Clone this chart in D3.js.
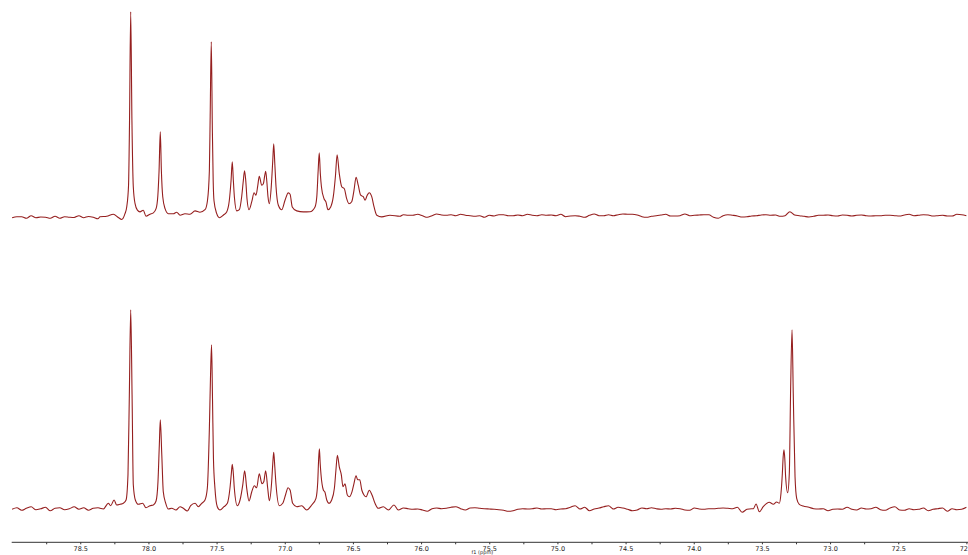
<!DOCTYPE html>
<html>
<head>
<meta charset="utf-8">
<script src="https://cdn.jsdelivr.net/npm/d3@7"></script>
<style>
  body { margin: 0; background: #fff; }
  svg { display: block; }
</style>
</head>
<body>
<svg id="chart" width="968" height="555"></svg>
<script>
// axis ticks (ppm)
const majorTicks = [78.5, 78.0, 77.5, 77.0, 76.5, 76.0, 75.5, 75.0, 74.5, 74.0, 73.5, 73.0, 72.5, 72.0];
const tickLabels = ["78.5", "78.0", "77.5", "77.0", "76.5", "76.0", "75.5", "75.0", "74.5", "74.0", "73.5", "73.0", "72.5", "72.0"];
const minorTicks = [78.75, 78.25, 77.75, 77.25, 76.75, 76.25, 75.75, 75.25, 74.75, 74.25, 73.75, 73.25, 72.75];

// baseline samples, one every 0.035 ppm (intensity, a.u.)
const gridStep = 0.035;
const topBaseLeft = [-2, -1, -1, -2.6, 0, -2, -1.3, -1.5, -2.6, -0.5, -2.6, -1, -1.5, -1.8, 0, -2, -0.8, -1.5, -3]; // from 79.000
const topBaseRight = [ // from 76.130
  1, 0.4, 0.4, 1.4, 0, -1.6, 0, 1.7, 0.7, 0.4,
  1, 0, 1.4, 0.4, 0, -0.6, 0, -1.6, 0.4, -0.3,
  1, 1, 0, 0, 0.7, 0, 1.4, 0.4, 0, 1,
  0.4, 0.7, 0, 1.4, -1, -0.3, 0, -0.6, -1.6, 0.4,
  1.7, 0, 0, 1, 0, 1, 1.7, 1.4, 1.4, 0.7,
  -1, -1.6, -0.6, 0, 0.7, 1.4, -0.3, -0.3, 0, 1.7,
  0, 0.4, 0.7, 1, 1, -1.6, -2.6, 0, 1, 0.4,
  -0.3, -1.3, -1, -0.3, 0, 0.7, 1, 0.4, 0.7, -0.6,
  0, 4, 0.7, 0, -0.6, -1.3, -0.6, 0.4, 0.4, 0.7,
  0, -0.3, 0.7, 0.4, -0.3, 0.4, 0.7, 0, -0.3, 0,
  0, 0.4, 0.4, 0, -0.3, 0.7, 1.4, 0, 0.4, 1,
  0.7, -0.3, 0, 0.4, -0.3, -0.3, 1.4, 1, 0
];
const bottomBaseLeft = [-0.5, 1, -1.5, 0.5, 2, -1, 0, 1.5, -2, 0.5, 1, -1, 0, 2, -0.5, 1, -1.5, 0.5, 1]; // from 79.000
const bottomBaseMid = [ // from 76.130
  0.8, 0.1, -0.5, -0.2, -1.2, -2.5, 0.1, 0.8, 0.1, 0.5,
  1.5, 2.1, 0.1, -1.2, 0.8, 1.1, 0.5, 0.1, -0.2, -0.5,
  -0.9, -1.5, -2.5, -1.9, -0.5, 0.1, -0.2, 0.1, 0.8, -0.2,
  0.1, 0.1, -0.9, -0.2, 0.1, 1.5, 3.1, -0.2, 1.5, -1.9,
  -0.2, 0.8, 2.1, 3.1, -0.2, 1.5, 0.8, -0.5, -1.9, -1.2,
  0.8, 0.1, 1.1, 0.1, -0.5, 0.1, -0.2, 0.5, 0.1, -1.2,
  -1.5, 0.8, -0.2, -0.5, 0.1, 0.1, 0.5, 0.8, 0.5, 0.1,
  1.5, -3.5, -0.5, 0.1
];
const bottomBaseRight = [ // from 73.155
  1.5, 0.1, -0.2, 0.1, -1.9, -0.5, -0.2, -0.5, 1.5,
  -0.5, -1.2, 0.8, -0.2, 0.1, 1.5, -0.9, -1.5, 0.8, 2.1,
  -1.2, -1.5, 0.1, -0.9, -0.5, 0.8, -1.9, -0.5, 0.1, 0.8,
  -2.5, 0.1, -0.9, -0.5, 1.5
];

// signal regions, [ppm, intensity]
const topPeaks = [
  [78.355, -1], [78.306, -0.5], [78.257, 1.5], [78.221, -1.8], [78.196, -3.8], [78.172, 2], [78.159, 9],
  [78.146, 30], [78.139, 90], [78.130, 204], [78.121, 95], [78.111, 29], [78.098, 12], [78.081, 5.5],
  [78.062, 3.8], [78.038, 5.5], [78.018, -0.5], [77.988, 1.5], [77.964, 2.8], [77.944, 7], [77.931, 20],
  [77.922, 45], [77.913, 84], [77.905, 45], [77.895, 19], [77.878, 7], [77.854, 2], [77.817, 2],
  [77.793, 3.5], [77.768, 0.5], [77.732, 2], [77.695, 1.5], [77.658, 4.8], [77.622, 3.5], [77.585, 6],
  [77.567, 15], [77.553, 45], [77.547, 100], [77.539, 174], [77.531, 85], [77.525, 35], [77.519, 15],
  [77.499, 2], [77.480, -2], [77.451, 0.5], [77.426, 3.8], [77.407, 15], [77.394, 35], [77.385, 54],
  [77.377, 35], [77.369, 18], [77.352, 4.8], [77.333, 6], [77.316, 19], [77.304, 35], [77.295, 45],
  [77.286, 35], [77.277, 17], [77.262, 6], [77.242, 14], [77.225, 23], [77.211, 20.5], [77.198, 30],
  [77.187, 39.5], [77.169, 30.5], [77.157, 32], [77.147, 40], [77.140, 44.5], [77.132, 35], [77.123, 19],
  [77.113, 12], [77.099, 29], [77.088, 55], [77.081, 72], [77.073, 52], [77.064, 29], [77.047, 10.5],
  [77.022, 6], [76.998, 15.5], [76.974, 22.8], [76.961, 21.5], [76.945, 8.8], [76.912, 4.8], [76.864, 3.8],
  [76.815, 4], [76.778, 8.8], [76.765, 19], [76.755, 45], [76.747, 63], [76.739, 42], [76.731, 29],
  [76.712, 17], [76.698, 13.8], [76.683, 6], [76.663, 8.8], [76.644, 19], [76.628, 40], [76.616, 61],
  [76.600, 42], [76.582, 29], [76.563, 27], [76.546, 17], [76.529, 12], [76.509, 14], [76.492, 25.5],
  [76.477, 38.5], [76.461, 30.5], [76.443, 20.5], [76.424, 19], [76.411, 15.5], [76.395, 20.5], [76.380, 23],
  [76.362, 19], [76.345, 8.8], [76.325, 0.5], [76.289, -1.2], [76.228, 0.5], [76.155, -0.5]
];
const bottomPeaks = [
  [78.355, 0.5], [78.331, -0.2], [78.294, 5.5], [78.277, 3.1], [78.252, 8.8], [78.233, 3.8], [78.208, 4.5],
  [78.184, 5.5], [78.164, 8.8], [78.150, 34], [78.140, 114], [78.130, 199], [78.120, 114], [78.111, 24],
  [78.096, 8.8], [78.074, 4.5], [78.042, 5.5], [78.018, 1.1], [77.988, 3.1], [77.964, 3.8], [77.944, 7.8],
  [77.930, 27], [77.920, 64], [77.913, 89], [77.902, 54], [77.891, 17], [77.873, 5.5], [77.854, -0.2],
  [77.829, 0.5], [77.798, -1.2], [77.768, 2.1], [77.744, 0.5], [77.715, -2.2], [77.690, 3.1], [77.658, 5.5],
  [77.634, 2.1], [77.609, 5.5], [77.585, 8.8], [77.568, 20.5], [77.553, 80], [77.545, 130], [77.537, 164],
  [77.530, 110], [77.523, 50], [77.512, 20.5], [77.495, 2.1], [77.475, -1.2], [77.446, 2.1], [77.421, 5.5],
  [77.402, 20.5], [77.392, 35], [77.385, 44.5], [77.377, 35], [77.370, 20.5], [77.348, 3.1], [77.328, 8.8],
  [77.308, 24], [77.294, 38], [77.279, 20.5], [77.262, 7.8], [77.242, 17], [77.223, 23], [77.206, 21],
  [77.187, 35], [77.167, 25], [77.154, 27], [77.140, 38], [77.125, 20.5], [77.113, 8], [77.096, 27],
  [77.088, 45], [77.081, 56.5], [77.073, 42], [77.064, 24], [77.040, 3.1], [77.015, 5.5], [76.993, 14.5],
  [76.976, 21], [76.961, 18.8], [76.942, 5.5], [76.912, 2.1], [76.876, 3.1], [76.839, -1.2], [76.802, 3.8],
  [76.771, 10.5], [76.758, 27], [76.752, 48], [76.746, 60], [76.740, 45], [76.734, 34], [76.717, 18.8],
  [76.705, 16.5], [76.692, 8.8], [76.675, 5.5], [76.656, 8.8], [76.636, 20.5], [76.625, 38], [76.614, 53.5],
  [76.600, 42], [76.585, 34], [76.573, 22], [76.558, 25], [76.541, 13.8], [76.526, 12], [76.507, 17],
  [76.492, 25.5], [76.477, 33], [76.465, 29], [76.450, 29], [76.435, 18.8], [76.419, 13.8], [76.404, 12],
  [76.380, 18.5], [76.360, 13.8], [76.338, 5.5], [76.314, 0.5], [76.277, 2.1], [76.240, -1.2], [76.199, 3.8],
  [76.167, -1.2]
];
const bottomPeaks2 = [
  [73.563, 0.1], [73.543, 4.8], [73.519, -2.9], [73.490, 2.1], [73.446, 6.5], [73.416, 4.5], [73.392, 6.8],
  [73.372, 5.5], [73.360, 15.5], [73.350, 35.5], [73.344, 52], [73.338, 59], [73.332, 50], [73.326, 32],
  [73.311, 16], [73.299, 35.5], [73.289, 122], [73.279, 179], [73.270, 115], [73.257, 32], [73.245, 10.5],
  [73.226, 4.5], [73.197, 2.8]
];

function gridPoints(start, values) {
	return values.map((v, i) => [start - i * gridStep, v]);
}

const topTrace = [].concat(
	gridPoints(79.0, topBaseLeft), topPeaks, gridPoints(76.13, topBaseRight)
).sort((a, b) => b[0] - a[0]);

const bottomTrace = [].concat(
	gridPoints(79.0, bottomBaseLeft), bottomPeaks, gridPoints(76.13, bottomBaseMid),
	bottomPeaks2, gridPoints(73.155, bottomBaseRight)
).sort((a, b) => b[0] - a[0]);

var svg = d3.select("#chart");

var x = d3.scaleLinear().domain([79, 72]).range([12.1, 966.4]);
var yTop = d3.scaleLinear().domain([0, 200]).range([215.7, 15.7]);
var yBottom = d3.scaleLinear().domain([0, 200]).range([508.8, 308.8]);

function drawTrace(data, y) {
	var line = d3.line()
		.x(function (d) { return x(d[0]); })
		.y(function (d) { return y(d[1]); })
		.curve(d3.curveMonotoneX);
	svg.append("path")
		.datum(data)
		.attr("fill", "none")
		.attr("stroke", "#951f1f")
		.attr("stroke-width", 1.1)
		.attr("stroke-linejoin", "round")
		.attr("d", line);
}

drawTrace(topTrace, yTop);
drawTrace(bottomTrace, yBottom);

// axis
var axisY = 542.3;
var axis = d3.axisBottom(x)
	.tickValues(majorTicks.concat(minorTicks))
	.tickSize(2)
	.tickSizeOuter(0)
	.tickPadding(2)
	.tickFormat(function (d) {
		var i = majorTicks.indexOf(d);
		return i >= 0 ? tickLabels[i] : "";
	});

var g = svg.append("g")
	.attr("transform", "translate(0," + axisY + ")")
	.call(axis);
g.select(".domain").remove();
g.append("line")
	.attr("x1", 11.7)
	.attr("x2", 968)
	.attr("stroke", "#333")
	.attr("stroke-width", 1);
g.selectAll(".tick line").attr("stroke", "#333");
g.selectAll(".tick text")
	.attr("fill", "#222")
	.style("font-family", "DejaVu Sans")
	.style("font-size", "6.5px");

svg.append("text")
	.attr("x", x(75.55))
	.attr("y", 554)
	.attr("text-anchor", "middle")
	.attr("fill", "#222")
	.style("font-family", "DejaVu Sans")
	.style("font-size", "5px")
	.text("f1 (ppm)");
</script>
</body>
</html>
